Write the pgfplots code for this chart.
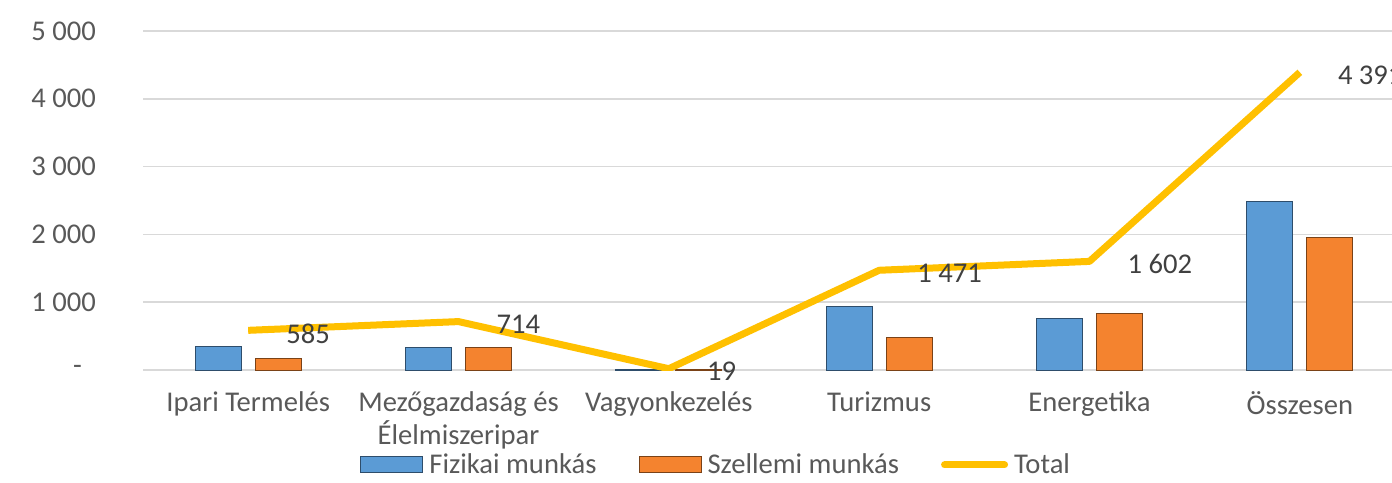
\documentclass[border=0pt]{standalone}
\usepackage{pgfplots}
\pgfplotsset{compat=1.18}
\usepackage{fontspec}
\setmainfont{Carlito}
\definecolor{blueC}{HTML}{5B9BD5}
\definecolor{orangeC}{HTML}{F4832F}
\definecolor{goldC}{HTML}{FFC000}
\definecolor{txt}{HTML}{595959}
\definecolor{lbl}{HTML}{404040}
\definecolor{gridC}{HTML}{D9D9D9}
\newcommand{\fnt}{\fontsize{14.3}{16.5}\selectfont}
\pgfplotsset{
  barlegend/.style={legend image code/.code={\draw[##1] (0pt,-4pt) rectangle (31pt,4pt);}},
  linelegend/.style={legend image code/.code={\draw[##1, line cap=round] (0pt,0pt) -- (30pt,0pt);}},
}
\begin{document}
\begin{tikzpicture}
\path[use as bounding box] (0,0) rectangle (696pt,241pt);
\clip (0,0) rectangle (696pt,241pt);
\begin{axis}[
  at={(71.5pt,56pt)}, anchor=south west,
  scale only axis, width=631pt, height=169.5pt,
  xmin=-0.5, xmax=5.5, ymin=0, ymax=5000,
  axis line style={draw=none},
  major tick length=0pt,
  ytick={0,1000,2000,3000,4000,5000},
  yticklabels={-\rule{7pt}{0pt},1 000,2 000,3 000,4 000,5 000},
  ymajorgrids, grid style={gridC, line width=0.8pt},
  yticklabel style={font=\fnt, text=txt, xshift=-20pt},
  xtick={0,1,2,3,4,5},
  xticklabels={Ipari Termelés,{Mezőgazdaság és\\Élelmiszeripar},Vagyonkezelés,Turizmus,Energetika,Összesen},
  xticklabel style={font=\fnt, text=txt, align=center, yshift=-7.5pt},
  legend style={at={(0.455,-0.28)}, anchor=center, draw=none, fill=none,
    legend columns=3, font=\fnt, text=txt, inner sep=0pt,
    /tikz/every even column/.append style={column sep=19pt},
    /tikz/every odd column/.append style={column sep=1pt}},
]
\addplot[ybar, bar width=23pt, bar shift=-15pt, draw=blueC!50!black, line width=0.5pt,
  fill=blueC, barlegend]
  coordinates {(0,351) (1,337) (2,10) (3,937) (4,761) (5,2489)};
\addlegendentry{Fizikai munkás}
\addplot[ybar, bar width=23pt, bar shift=15pt, draw=orangeC!50!black, line width=0.5pt,
  fill=orangeC, barlegend]
  coordinates {(0,176) (1,337) (2,9) (3,483) (4,835) (5,1947)};
\addlegendentry{Szellemi munkás}
\addplot[sharp plot, goldC, line width=3.5pt, line join=round,
  point meta=explicit symbolic, nodes near coords,
  nodes near coords style={anchor=west, xshift=14pt, yshift=-1.5pt, text=lbl, font=\fnt},
  linelegend]
  coordinates {(0,585) [585] (1,714) [714] (2,19) [19] (3,1471) [1 471] (4,1602) [1 602] (5,4391) [4 391]};
\addlegendentry{Total}
\end{axis}
\end{tikzpicture}
\end{document}
